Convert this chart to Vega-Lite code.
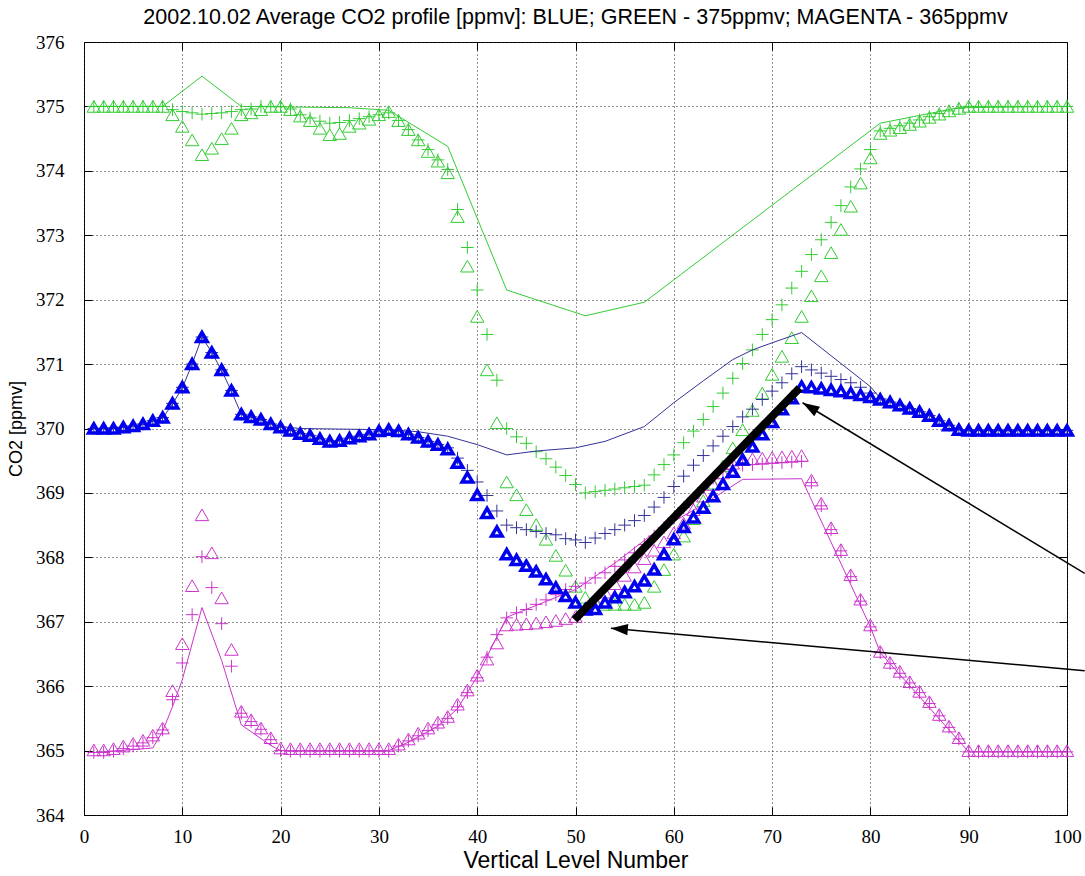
{
"$schema":"https://vega.github.io/schema/vega-lite/v6.json",
"width":983,"height":773,
"autosize":{"type":"none"},
"padding":{"left":84,"top":42,"right":18,"bottom":61},
"background":"white",
"config":{"view":{"stroke":"black","strokeWidth":1},"font":"Liberation Sans"},
"title":{"text":"2002.10.02 Average CO2 profile [ppmv]: BLUE; GREEN - 375ppmv; MAGENTA - 365ppmv","font":"Liberation Sans","fontSize":21.5,"fontWeight":"normal","color":"black","anchor":"middle","frame":"group","baseline":"alphabetic","offset":-12},
"resolve":{"axis":{"x":"independent","y":"independent"}},
"datasets":{
"pts":[
{"l":1,"gt":375.0,"gp":375.0,"bt":370.0,"bp":370.0,"mt":365.01,"mp":364.97},
{"l":2,"gt":375.0,"gp":375.0,"bt":370.0,"bp":370.0,"mt":365.01,"mp":364.97},
{"l":3,"gt":375.0,"gp":375.0,"bt":370.0,"bp":370.0,"mt":365.03,"mp":364.99},
{"l":4,"gt":375.0,"gp":375.0,"bt":370.02,"bp":370.02,"mt":365.07,"mp":365.03},
{"l":5,"gt":375.0,"gp":375.0,"bt":370.04,"bp":370.04,"mt":365.11,"mp":365.07},
{"l":6,"gt":375.0,"gp":375.0,"bt":370.07,"bp":370.07,"mt":365.16,"mp":365.12},
{"l":7,"gt":375.0,"gp":375.0,"bt":370.12,"bp":370.12,"mt":365.24,"mp":365.2},
{"l":8,"gt":375.0,"gp":375.0,"bt":370.17,"bp":370.17,"mt":365.35,"mp":365.32},
{"l":9,"gt":374.87,"gp":374.95,"bt":370.39,"bp":370.39,"mt":365.93,"mp":365.79},
{"l":10,"gt":374.69,"gp":374.92,"bt":370.64,"bp":370.64,"mt":366.66,"mp":366.36},
{"l":11,"gt":374.48,"gp":374.9,"bt":371.0,"bp":371.0,"mt":367.56,"mp":367.11},
{"l":12,"gt":374.25,"gp":374.88,"bt":371.42,"bp":371.42,"mt":368.66,"mp":368.01},
{"l":13,"gt":374.35,"gp":374.89,"bt":371.18,"bp":371.18,"mt":368.07,"mp":367.53},
{"l":14,"gt":374.5,"gp":374.9,"bt":370.91,"bp":370.91,"mt":367.37,"mp":366.97},
{"l":15,"gt":374.66,"gp":374.92,"bt":370.59,"bp":370.59,"mt":366.57,"mp":366.31},
{"l":16,"gt":374.87,"gp":374.95,"bt":370.22,"bp":370.22,"mt":365.61,"mp":365.58},
{"l":17,"gt":374.9,"gp":374.96,"bt":370.18,"bp":370.18,"mt":365.48,"mp":365.45},
{"l":18,"gt":374.95,"gp":375.0,"bt":370.14,"bp":370.14,"mt":365.35,"mp":365.33},
{"l":19,"gt":375.0,"gp":375.0,"bt":370.07,"bp":370.07,"mt":365.2,"mp":365.17},
{"l":20,"gt":375.0,"gp":375.0,"bt":370.02,"bp":370.02,"mt":365.04,"mp":365.0},
{"l":21,"gt":374.95,"gp":374.96,"bt":369.97,"bp":369.97,"mt":365.03,"mp":364.99},
{"l":22,"gt":374.85,"gp":374.87,"bt":369.92,"bp":369.92,"mt":365.03,"mp":364.99},
{"l":23,"gt":374.78,"gp":374.82,"bt":369.89,"bp":369.89,"mt":365.03,"mp":364.99},
{"l":24,"gt":374.66,"gp":374.77,"bt":369.84,"bp":369.84,"mt":365.03,"mp":364.99},
{"l":25,"gt":374.56,"gp":374.74,"bt":369.8,"bp":369.8,"mt":365.03,"mp":364.99},
{"l":26,"gt":374.58,"gp":374.75,"bt":369.81,"bp":369.81,"mt":365.03,"mp":364.99},
{"l":27,"gt":374.69,"gp":374.78,"bt":369.85,"bp":369.85,"mt":365.03,"mp":364.99},
{"l":28,"gt":374.74,"gp":374.81,"bt":369.88,"bp":369.88,"mt":365.03,"mp":364.99},
{"l":29,"gt":374.8,"gp":374.84,"bt":369.91,"bp":369.91,"mt":365.03,"mp":364.99},
{"l":30,"gt":374.87,"gp":374.87,"bt":369.96,"bp":369.96,"mt":365.03,"mp":364.99},
{"l":31,"gt":374.92,"gp":374.9,"bt":369.98,"bp":369.98,"mt":365.03,"mp":364.99},
{"l":32,"gt":374.78,"gp":374.78,"bt":369.96,"bp":369.96,"mt":365.1,"mp":365.07},
{"l":33,"gt":374.64,"gp":374.64,"bt":369.91,"bp":369.91,"mt":365.18,"mp":365.15},
{"l":34,"gt":374.48,"gp":374.48,"bt":369.86,"bp":369.86,"mt":365.27,"mp":365.23},
{"l":35,"gt":374.3,"gp":374.33,"bt":369.8,"bp":369.8,"mt":365.35,"mp":365.31},
{"l":36,"gt":374.15,"gp":374.17,"bt":369.75,"bp":369.75,"mt":365.44,"mp":365.4},
{"l":37,"gt":373.97,"gp":374.02,"bt":369.68,"bp":369.7,"mt":365.53,"mp":365.5},
{"l":38,"gt":373.29,"gp":373.4,"bt":369.47,"bp":369.54,"mt":365.72,"mp":365.68},
{"l":39,"gt":372.52,"gp":372.81,"bt":369.24,"bp":369.35,"mt":365.94,"mp":365.9},
{"l":40,"gt":371.74,"gp":372.15,"bt":368.97,"bp":369.17,"mt":366.17,"mp":366.13},
{"l":41,"gt":370.91,"gp":371.46,"bt":368.69,"bp":368.96,"mt":366.42,"mp":366.45},
{"l":42,"gt":370.09,"gp":370.75,"bt":368.4,"bp":368.72,"mt":366.67,"mp":366.8},
{"l":43,"gt":369.17,"gp":370.0,"bt":368.05,"bp":368.5,"mt":366.95,"mp":367.06},
{"l":44,"gt":368.97,"gp":369.87,"bt":367.96,"bp":368.46,"mt":366.96,"mp":367.14},
{"l":45,"gt":368.74,"gp":369.77,"bt":367.87,"bp":368.43,"mt":366.97,"mp":367.19},
{"l":46,"gt":368.51,"gp":369.64,"bt":367.78,"bp":368.4,"mt":366.98,"mp":367.27},
{"l":47,"gt":368.28,"gp":369.53,"bt":367.66,"bp":368.37,"mt":367.0,"mp":367.34},
{"l":48,"gt":368.03,"gp":369.4,"bt":367.53,"bp":368.35,"mt":367.02,"mp":367.42},
{"l":49,"gt":367.8,"gp":369.27,"bt":367.4,"bp":368.29,"mt":367.05,"mp":367.5},
{"l":50,"gt":367.55,"gp":369.13,"bt":367.3,"bp":368.27,"mt":367.08,"mp":367.55},
{"l":51,"gt":367.38,"gp":369.0,"bt":367.19,"bp":368.23,"mt":367.2,"mp":367.6},
{"l":52,"gt":367.3,"gp":369.02,"bt":367.2,"bp":368.3,"mt":367.33,"mp":367.68},
{"l":53,"gt":367.27,"gp":369.04,"bt":367.3,"bp":368.37,"mt":367.46,"mp":367.76},
{"l":54,"gt":367.27,"gp":369.06,"bt":367.38,"bp":368.43,"mt":367.59,"mp":367.86},
{"l":55,"gt":367.27,"gp":369.08,"bt":367.46,"bp":368.5,"mt":367.72,"mp":367.96},
{"l":56,"gt":367.27,"gp":369.1,"bt":367.55,"bp":368.57,"mt":367.85,"mp":368.07},
{"l":57,"gt":367.3,"gp":369.12,"bt":367.64,"bp":368.65,"mt":367.98,"mp":368.2},
{"l":58,"gt":367.55,"gp":369.28,"bt":367.81,"bp":368.78,"mt":368.11,"mp":368.33},
{"l":59,"gt":367.81,"gp":369.44,"bt":368.05,"bp":368.93,"mt":368.24,"mp":368.46},
{"l":60,"gt":368.05,"gp":369.59,"bt":368.28,"bp":369.1,"mt":368.38,"mp":368.61},
{"l":61,"gt":368.33,"gp":369.78,"bt":368.47,"bp":369.26,"mt":368.53,"mp":368.77},
{"l":62,"gt":368.6,"gp":369.96,"bt":368.62,"bp":369.43,"mt":368.74,"mp":368.92},
{"l":63,"gt":368.88,"gp":370.14,"bt":368.77,"bp":369.58,"mt":368.95,"mp":369.08},
{"l":64,"gt":369.15,"gp":370.34,"bt":368.95,"bp":369.73,"mt":369.13,"mp":369.23},
{"l":65,"gt":369.42,"gp":370.55,"bt":369.14,"bp":369.88,"mt":369.31,"mp":369.36},
{"l":66,"gt":369.7,"gp":370.78,"bt":369.33,"bp":370.03,"mt":369.46,"mp":369.42},
{"l":67,"gt":369.98,"gp":371.01,"bt":369.52,"bp":370.18,"mt":369.52,"mp":369.43},
{"l":68,"gt":370.28,"gp":371.22,"bt":369.72,"bp":370.3,"mt":369.53,"mp":369.44},
{"l":69,"gt":370.55,"gp":371.46,"bt":369.91,"bp":370.45,"mt":369.54,"mp":369.45},
{"l":70,"gt":370.84,"gp":371.69,"bt":370.1,"bp":370.58,"mt":369.55,"mp":369.46},
{"l":71,"gt":371.12,"gp":371.92,"bt":370.3,"bp":370.71,"mt":369.56,"mp":369.47},
{"l":72,"gt":371.41,"gp":372.18,"bt":370.47,"bp":370.85,"mt":369.57,"mp":369.48},
{"l":73,"gt":371.74,"gp":372.44,"bt":370.65,"bp":370.96,"mt":369.58,"mp":369.49},
{"l":74,"gt":372.06,"gp":372.7,"bt":370.64,"bp":370.91,"mt":369.2,"mp":369.16},
{"l":75,"gt":372.37,"gp":372.93,"bt":370.62,"bp":370.86,"mt":368.84,"mp":368.8},
{"l":76,"gt":372.73,"gp":373.2,"bt":370.6,"bp":370.81,"mt":368.46,"mp":368.43},
{"l":77,"gt":373.09,"gp":373.46,"bt":370.58,"bp":370.76,"mt":368.12,"mp":368.1},
{"l":78,"gt":373.45,"gp":373.75,"bt":370.55,"bp":370.71,"mt":367.73,"mp":367.7},
{"l":79,"gt":373.81,"gp":374.03,"bt":370.52,"bp":370.64,"mt":367.35,"mp":367.32},
{"l":80,"gt":374.2,"gp":374.33,"bt":370.49,"bp":370.55,"mt":366.95,"mp":366.92},
{"l":81,"gt":374.58,"gp":374.62,"bt":370.45,"bp":370.46,"mt":366.54,"mp":366.52},
{"l":82,"gt":374.63,"gp":374.66,"bt":370.41,"bp":370.41,"mt":366.37,"mp":366.35},
{"l":83,"gt":374.67,"gp":374.7,"bt":370.36,"bp":370.36,"mt":366.23,"mp":366.2},
{"l":84,"gt":374.72,"gp":374.74,"bt":370.31,"bp":370.31,"mt":366.07,"mp":366.05},
{"l":85,"gt":374.77,"gp":374.79,"bt":370.26,"bp":370.26,"mt":365.92,"mp":365.9},
{"l":86,"gt":374.83,"gp":374.84,"bt":370.2,"bp":370.2,"mt":365.76,"mp":365.73},
{"l":87,"gt":374.88,"gp":374.89,"bt":370.12,"bp":370.12,"mt":365.56,"mp":365.54},
{"l":88,"gt":374.93,"gp":374.93,"bt":370.05,"bp":370.05,"mt":365.38,"mp":365.36},
{"l":89,"gt":374.97,"gp":374.97,"bt":369.98,"bp":369.98,"mt":365.2,"mp":365.18},
{"l":90,"gt":375.0,"gp":375.0,"bt":369.97,"bp":369.97,"mt":365.0,"mp":364.98},
{"l":91,"gt":375.0,"gp":375.0,"bt":369.97,"bp":369.97,"mt":365.0,"mp":364.98},
{"l":92,"gt":375.0,"gp":375.0,"bt":369.97,"bp":369.97,"mt":365.0,"mp":364.98},
{"l":93,"gt":375.0,"gp":375.0,"bt":369.97,"bp":369.97,"mt":365.0,"mp":364.98},
{"l":94,"gt":375.0,"gp":375.0,"bt":369.97,"bp":369.97,"mt":365.0,"mp":364.98},
{"l":95,"gt":375.0,"gp":375.0,"bt":369.97,"bp":369.97,"mt":365.0,"mp":364.98},
{"l":96,"gt":375.0,"gp":375.0,"bt":369.97,"bp":369.97,"mt":365.0,"mp":364.98},
{"l":97,"gt":375.0,"gp":375.0,"bt":369.97,"bp":369.97,"mt":365.0,"mp":364.98},
{"l":98,"gt":375.0,"gp":375.0,"bt":369.97,"bp":369.97,"mt":365.0,"mp":364.98},
{"l":99,"gt":375.0,"gp":375.0,"bt":369.97,"bp":369.97,"mt":365.0,"mp":364.98},
{"l":100,"gt":375.0,"gp":375.0,"bt":369.97,"bp":369.97,"mt":365.0,"mp":364.98}
],
"gl":[
{"l":1,"v":375.0},{"l":8,"v":375.0},{"l":12,"v":375.47},{"l":16,"v":375.0},{"l":27,"v":374.98},{"l":31,"v":374.94},{"l":37,"v":374.38},{"l":43,"v":372.15},{"l":51,"v":371.75},{"l":57,"v":371.96},{"l":81,"v":374.74},{"l":85,"v":374.86},{"l":89,"v":374.98},{"l":100,"v":375.0}
],
"bl":[
{"l":1,"v":370.0},{"l":4,"v":370.02},{"l":6,"v":370.06},{"l":8,"v":370.16},{"l":9,"v":370.38},{"l":10,"v":370.63},{"l":11,"v":371.0},{"l":12,"v":371.42},{"l":13,"v":371.18},{"l":14,"v":370.9},{"l":15,"v":370.58},{"l":16,"v":370.22},{"l":18,"v":370.13},{"l":20,"v":370.03},{"l":22,"v":370.0},{"l":31,"v":369.98},{"l":34,"v":369.95},{"l":37,"v":369.88},{"l":40,"v":369.75},{"l":43,"v":369.59},{"l":46,"v":369.65},{"l":50,"v":369.7},{"l":53,"v":369.8},{"l":57,"v":370.03},{"l":60,"v":370.4},{"l":63,"v":370.74},{"l":66,"v":371.07},{"l":68,"v":371.22},{"l":70,"v":371.33},{"l":73,"v":371.49},{"l":80,"v":370.65},{"l":81,"v":370.47},{"l":85,"v":370.27},{"l":89,"v":369.98},{"l":100,"v":369.98}
],
"ml":[
{"l":1,"v":364.97},{"l":7,"v":365.04},{"l":8,"v":365.3},{"l":9,"v":365.68},{"l":10,"v":366.1},{"l":12,"v":367.22},{"l":14,"v":366.4},{"l":16,"v":365.4},{"l":19,"v":365.08},{"l":20,"v":365.0},{"l":31,"v":365.0},{"l":33,"v":365.13},{"l":36,"v":365.38},{"l":38,"v":365.65},{"l":40,"v":366.15},{"l":41,"v":366.46},{"l":43,"v":367.07},{"l":50,"v":367.5},{"l":54,"v":367.91},{"l":58,"v":368.38},{"l":63,"v":368.82},{"l":67,"v":369.21},{"l":73,"v":369.22},{"l":80,"v":366.92},{"l":81,"v":366.52},{"l":90,"v":364.98},{"l":100,"v":364.98}
],
"thick":[{"x":49.9,"y":367.03,"x2":72.8,"y2":370.63}],
"arrows":[{"x":101.8,"y":367.75,"x2":73.1,"y2":370.4},{"x":101.8,"y":366.24,"x2":53.6,"y2":366.9}],
"head1":[{"x":73.1,"y":370.4}],
"head2":[{"x":53.6,"y":366.9}]
},
"layer":[
{"data":{"name":"gl"},"mark":{"type":"line","color":"#33cc33","strokeWidth":1},
 "encoding":{
  "x":{"field":"l","type":"quantitative","scale":{"domain":[0,100],"nice":false,"zero":false},
   "axis":{"values":[0,10,20,30,40,50,60,70,80,90,100],"title":"Vertical Level Number","titleFont":"Liberation Sans","titleFontSize":23,"titleFontWeight":"normal","titleColor":"black","titlePadding":3,
    "labelFont":"Liberation Sans Narrow","labelFontSize":19,"labelColor":"black","labelPadding":20,"labelFlush":false,"labelOverlap":false,
    "grid":true,"gridDash":[1,3],"gridColor":"#222","gridWidth":1,"domain":false,"ticks":true,"tickSize":-8,"tickColor":"black"}},
  "y":{"field":"v","type":"quantitative","scale":{"domain":[364,376],"nice":false,"zero":false},
   "axis":{"values":[364,365,366,367,368,369,370,371,372,373,374,375,376],"format":"d","title":"CO2 [ppmv]","titleFont":"Liberation Sans","titleFontSize":18,"titleFontWeight":"normal","titleColor":"black","titlePadding":10,
    "labelFont":"Liberation Sans Narrow","labelFontSize":19,"labelColor":"black","labelPadding":28,"labelFlush":false,"labelOverlap":false,
    "grid":true,"gridDash":[1,3],"gridColor":"#222","gridWidth":1,"domain":false,"ticks":true,"tickSize":-8,"tickColor":"black"}}}},
{"data":{"name":"pts"},"mark":{"type":"point","shape":"M-1,0L1,0M0,-1L0,1","filled":false,"color":"#33cc33","strokeWidth":1,"size":160,"opacity":1},
 "encoding":{"x":{"field":"l","type":"quantitative","scale":{"domain":[0,100],"nice":false,"zero":false},"axis":null},"y":{"field":"gp","type":"quantitative","scale":{"domain":[364,376],"nice":false,"zero":false},"axis":null}}},
{"data":{"name":"pts"},"mark":{"type":"point","shape":"triangle-up","filled":false,"color":"#33cc33","strokeWidth":1,"size":180,"opacity":1},
 "encoding":{"x":{"field":"l","type":"quantitative","scale":{"domain":[0,100],"nice":false,"zero":false},"axis":null},"y":{"field":"gt","type":"quantitative","scale":{"domain":[364,376],"nice":false,"zero":false},"axis":null}}},
{"data":{"name":"ml"},"mark":{"type":"line","color":"#cc33cc","strokeWidth":1},
 "encoding":{"x":{"field":"l","type":"quantitative","scale":{"domain":[0,100],"nice":false,"zero":false},"axis":null},"y":{"field":"v","type":"quantitative","scale":{"domain":[364,376],"nice":false,"zero":false},"axis":null}}},
{"data":{"name":"pts"},"mark":{"type":"point","shape":"M-1,0L1,0M0,-1L0,1","filled":false,"color":"#cc33cc","strokeWidth":1,"size":160,"opacity":1},
 "encoding":{"x":{"field":"l","type":"quantitative","scale":{"domain":[0,100],"nice":false,"zero":false},"axis":null},"y":{"field":"mp","type":"quantitative","scale":{"domain":[364,376],"nice":false,"zero":false},"axis":null}}},
{"data":{"name":"pts"},"mark":{"type":"point","shape":"triangle-up","filled":false,"color":"#cc33cc","strokeWidth":1,"size":180,"opacity":1},
 "encoding":{"x":{"field":"l","type":"quantitative","scale":{"domain":[0,100],"nice":false,"zero":false},"axis":null},"y":{"field":"mt","type":"quantitative","scale":{"domain":[364,376],"nice":false,"zero":false},"axis":null}}},
{"data":{"name":"bl"},"mark":{"type":"line","color":"#333399","strokeWidth":1},
 "encoding":{"x":{"field":"l","type":"quantitative","scale":{"domain":[0,100],"nice":false,"zero":false},"axis":null},"y":{"field":"v","type":"quantitative","scale":{"domain":[364,376],"nice":false,"zero":false},"axis":null}}},
{"data":{"name":"pts"},"mark":{"type":"point","shape":"M-1,0L1,0M0,-1L0,1","filled":false,"color":"#333399","strokeWidth":1,"size":160,"opacity":1},
 "encoding":{"x":{"field":"l","type":"quantitative","scale":{"domain":[0,100],"nice":false,"zero":false},"axis":null},"y":{"field":"bp","type":"quantitative","scale":{"domain":[364,376],"nice":false,"zero":false},"axis":null}}},
{"data":{"name":"pts"},"mark":{"type":"point","shape":"triangle-up","filled":false,"color":"#0000ee","strokeWidth":3.5,"size":110,"opacity":1},
 "encoding":{"x":{"field":"l","type":"quantitative","scale":{"domain":[0,100],"nice":false,"zero":false},
   "axis":{"orient":"top","values":[0,10,20,30,40,50,60,70,80,90,100],"labels":false,"title":null,"grid":false,"domain":false,"ticks":true,"tickSize":-8,"tickColor":"black"}},
  "y":{"field":"bt","type":"quantitative","scale":{"domain":[364,376],"nice":false,"zero":false},
   "axis":{"orient":"right","values":[364,365,366,367,368,369,370,371,372,373,374,375,376],"labels":false,"title":null,"grid":false,"domain":false,"ticks":true,"tickSize":-8,"tickColor":"black"}}}},
{"data":{"name":"thick"},"mark":{"type":"rule","color":"black","strokeWidth":8},
 "encoding":{"x":{"field":"x","type":"quantitative","scale":{"domain":[0,100],"nice":false,"zero":false},"axis":null},"y":{"field":"y","type":"quantitative","scale":{"domain":[364,376],"nice":false,"zero":false},"axis":null},"x2":{"field":"x2"},"y2":{"field":"y2"}}},
{"data":{"name":"arrows"},"mark":{"type":"rule","color":"black","strokeWidth":1.5},
 "encoding":{"x":{"field":"x","type":"quantitative","scale":{"domain":[0,100],"nice":false,"zero":false},"axis":null},"y":{"field":"y","type":"quantitative","scale":{"domain":[364,376],"nice":false,"zero":false},"axis":null},"x2":{"field":"x2"},"y2":{"field":"y2"}}},
{"data":{"name":"head1"},"mark":{"type":"point","shape":"M0,0L0.8,2.4L-0.8,2.4Z","filled":true,"color":"black","size":200,"angle":301,"opacity":1},
 "encoding":{"x":{"field":"x","type":"quantitative","scale":{"domain":[0,100],"nice":false,"zero":false},"axis":null},"y":{"field":"y","type":"quantitative","scale":{"domain":[364,376],"nice":false,"zero":false},"axis":null}}},
{"data":{"name":"head2"},"mark":{"type":"point","shape":"M0,0L0.8,2.4L-0.8,2.4Z","filled":true,"color":"black","size":200,"angle":275,"opacity":1},
 "encoding":{"x":{"field":"x","type":"quantitative","scale":{"domain":[0,100],"nice":false,"zero":false},"axis":null},"y":{"field":"y","type":"quantitative","scale":{"domain":[364,376],"nice":false,"zero":false},"axis":null}}}
]
}
